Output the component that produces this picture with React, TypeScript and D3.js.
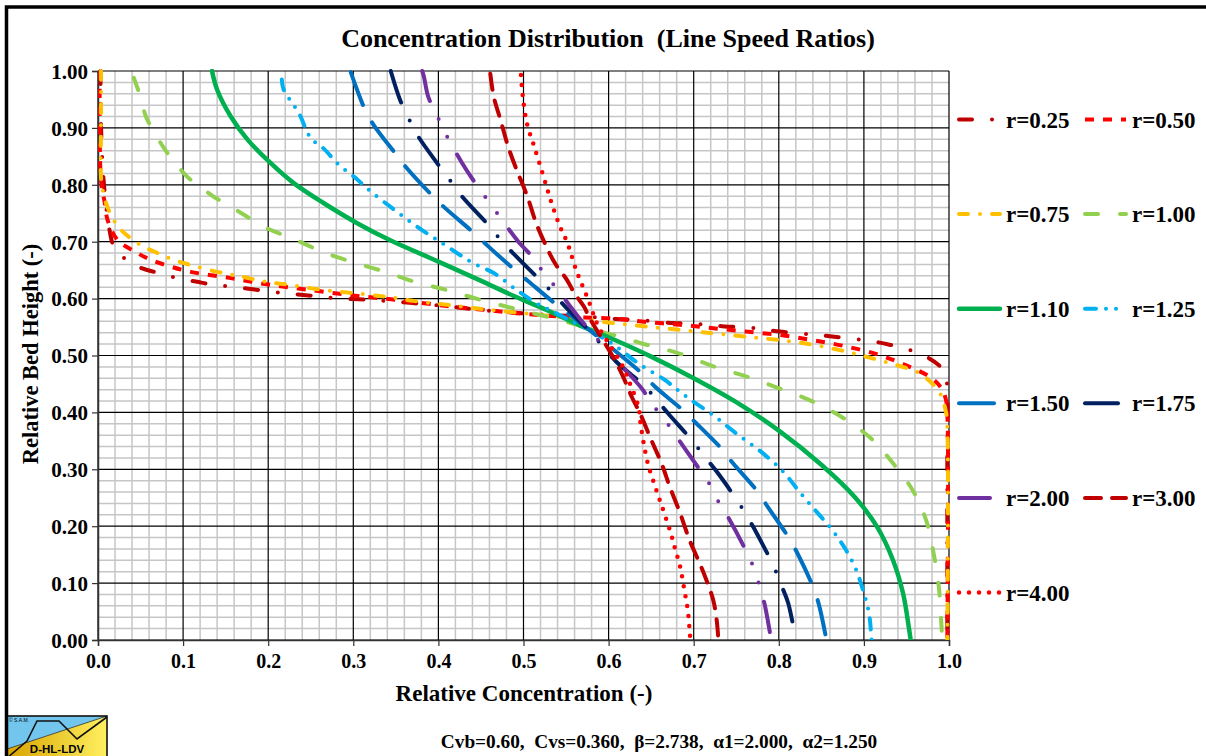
import { useEffect, useRef } from 'react'
import * as d3 from 'd3'

type Pt = [number, number]

// [relative concentration, relative bed height]
const r025: Pt[] = [
  [0.003, 1.0], [0.003, 0.95], [0.004, 0.88], [0.006, 0.82], [0.009, 0.77], [0.013, 0.725], [0.019, 0.69],
  [0.031, 0.671], [0.052, 0.653], [0.074, 0.644], [0.093, 0.636], [0.115, 0.63], [0.136, 0.624], [0.156, 0.621],
  [0.179, 0.617], [0.203, 0.612], [0.222, 0.609], [0.244, 0.606], [0.265, 0.603], [0.285, 0.6], [0.306, 0.599],
  [0.33, 0.597], [0.4, 0.588], [0.45, 0.58], [0.5, 0.574], [0.55, 0.57], [0.586, 0.567], [0.609, 0.564],
  [0.629, 0.563], [0.652, 0.56], [0.676, 0.557], [0.695, 0.556], [0.719, 0.554], [0.736, 0.551], [0.76, 0.55],
  [0.781, 0.546], [0.801, 0.542], [0.824, 0.539], [0.846, 0.536], [0.865, 0.533], [0.889, 0.529], [0.91, 0.525],
  [0.93, 0.519], [0.953, 0.51], [0.973, 0.498], [0.988, 0.483], [0.996, 0.465], [0.998, 0.44], [0.998, 0.3], [0.998, 0.0]
]
const r050: Pt[] = [
  [0.002, 1.0], [0.002, 0.9], [0.003, 0.82], [0.005, 0.79], [0.0074, 0.773], [0.0113, 0.738], [0.023, 0.703],
  [0.043, 0.683], [0.062, 0.668], [0.086, 0.656], [0.109, 0.647], [0.156, 0.636], [0.203, 0.624], [0.25, 0.615],
  [0.297, 0.606], [0.336, 0.6], [0.371, 0.594], [0.41, 0.587], [0.449, 0.581], [0.488, 0.575], [0.527, 0.57],
  [0.566, 0.567], [0.605, 0.565], [0.644, 0.559], [0.684, 0.554], [0.723, 0.548], [0.762, 0.542], [0.801, 0.536],
  [0.84, 0.527], [0.879, 0.516], [0.918, 0.501], [0.949, 0.483], [0.977, 0.463], [0.99, 0.445], [0.996, 0.425],
  [0.998, 0.4], [0.998, 0.0]
]
const r075: Pt[] = [
  [0.0035, 1.0], [0.0035, 0.9], [0.0035, 0.814], [0.0055, 0.791], [0.0094, 0.768], [0.0172, 0.741], [0.027, 0.721],
  [0.041, 0.703], [0.054, 0.691], [0.07, 0.68], [0.089, 0.668], [0.109, 0.659], [0.14, 0.647], [0.168, 0.639],
  [0.195, 0.63], [0.226, 0.624], [0.265, 0.615], [0.304, 0.609], [0.34, 0.603], [0.371, 0.596], [0.41, 0.589],
  [0.449, 0.582], [0.488, 0.576], [0.527, 0.57], [0.566, 0.564], [0.605, 0.557], [0.644, 0.551], [0.684, 0.545],
  [0.723, 0.539], [0.762, 0.533], [0.801, 0.527], [0.84, 0.519], [0.879, 0.507], [0.91, 0.495], [0.941, 0.482],
  [0.965, 0.469], [0.988, 0.437], [0.996, 0.404], [0.998, 0.375], [0.998, 0.0]
]
const r100: Pt[] = [
  [0.042, 0.988], [0.0445, 0.978], [0.0504, 0.952], [0.0563, 0.92], [0.066, 0.893], [0.0777, 0.864], [0.0894, 0.841],
  [0.105, 0.814], [0.117, 0.8], [0.136, 0.779], [0.152, 0.765], [0.172, 0.747], [0.187, 0.732], [0.207, 0.718],
  [0.226, 0.707], [0.246, 0.694], [0.265, 0.681], [0.285, 0.671], [0.304, 0.662], [0.324, 0.653], [0.342, 0.645],
  [0.371, 0.63], [0.41, 0.615], [0.449, 0.598], [0.488, 0.583], [0.517, 0.572], [0.539, 0.564], [0.598, 0.539],
  [0.617, 0.532], [0.637, 0.522], [0.656, 0.515], [0.684, 0.503], [0.723, 0.481], [0.762, 0.463], [0.801, 0.442],
  [0.84, 0.419], [0.879, 0.387], [0.91, 0.352], [0.934, 0.311], [0.957, 0.264], [0.973, 0.211], [0.982, 0.152],
  [0.988, 0.094], [0.991, 0.029], [0.992, 0.0]
]
const r110: Pt[] = [
  [0.134, 1.0], [0.14, 0.967], [0.156, 0.92], [0.176, 0.879], [0.203, 0.838], [0.23, 0.803], [0.265, 0.768],
  [0.304, 0.733], [0.344, 0.702], [0.4, 0.665], [0.449, 0.632], [0.488, 0.605], [0.527, 0.58], [0.566, 0.553],
  [0.6, 0.532], [0.65, 0.498], [0.7, 0.46], [0.75, 0.418], [0.8, 0.368], [0.85, 0.308], [0.89, 0.25],
  [0.915, 0.2], [0.934, 0.141], [0.946, 0.082], [0.953, 0.02], [0.955, 0.0]
]
const r125: Pt[] = [
  [0.216, 0.985], [0.218, 0.968], [0.236, 0.926], [0.25, 0.882], [0.265, 0.864], [0.283, 0.835], [0.301, 0.814],
  [0.316, 0.794], [0.336, 0.77], [0.359, 0.744], [0.383, 0.718], [0.402, 0.7], [0.422, 0.68], [0.441, 0.662],
  [0.465, 0.645], [0.492, 0.615], [0.515, 0.592], [0.535, 0.577], [0.603, 0.522], [0.635, 0.486], [0.666, 0.457],
  [0.691, 0.428], [0.723, 0.395], [0.75, 0.363], [0.779, 0.331], [0.805, 0.296], [0.824, 0.261], [0.844, 0.226],
  [0.863, 0.193], [0.879, 0.158], [0.891, 0.123], [0.9, 0.082], [0.906, 0.047], [0.909, 0.0]
]
const r150: Pt[] = [
  [0.297, 0.998], [0.314, 0.931], [0.324, 0.905], [0.351, 0.852], [0.363, 0.829], [0.394, 0.779], [0.408, 0.759],
  [0.442, 0.715], [0.457, 0.694], [0.49, 0.65], [0.506, 0.63], [0.539, 0.589], [0.573, 0.55], [0.611, 0.504],
  [0.641, 0.466], [0.654, 0.446], [0.687, 0.404], [0.703, 0.381], [0.734, 0.334], [0.746, 0.311], [0.775, 0.261],
  [0.787, 0.234], [0.812, 0.179], [0.822, 0.152], [0.84, 0.094], [0.847, 0.063], [0.856, 0.0]
]
const r175: Pt[] = [
  [0.344, 1.0], [0.355, 0.949], [0.365, 0.917], [0.375, 0.888], [0.4, 0.835], [0.414, 0.807], [0.428, 0.779],
  [0.457, 0.732], [0.471, 0.707], [0.487, 0.681], [0.517, 0.636], [0.533, 0.612], [0.549, 0.586], [0.578, 0.542],
  [0.609, 0.489], [0.641, 0.448], [0.656, 0.423], [0.67, 0.398], [0.699, 0.349], [0.713, 0.322], [0.727, 0.296],
  [0.752, 0.243], [0.764, 0.214], [0.775, 0.185], [0.795, 0.126], [0.803, 0.096], [0.811, 0.065], [0.82, 0.0]
]
const r200: Pt[] = [
  [0.381, 1.0], [0.383, 0.99], [0.388, 0.955], [0.398, 0.923], [0.408, 0.891], [0.428, 0.838], [0.441, 0.808],
  [0.455, 0.779], [0.469, 0.75], [0.494, 0.7], [0.51, 0.674], [0.523, 0.647], [0.539, 0.618], [0.566, 0.565],
  [0.609, 0.492], [0.639, 0.442], [0.652, 0.413], [0.666, 0.387], [0.68, 0.357], [0.703, 0.308], [0.717, 0.278],
  [0.728, 0.246], [0.74, 0.217], [0.76, 0.161], [0.77, 0.129], [0.777, 0.097], [0.783, 0.065], [0.787, 0.035], [0.791, 0.0]
]
const r300: Pt[] = [
  [0.461, 0.995], [0.465, 0.955], [0.473, 0.914], [0.482, 0.867], [0.492, 0.826], [0.5, 0.797], [0.506, 0.773],
  [0.515, 0.732], [0.527, 0.691], [0.537, 0.662], [0.551, 0.633], [0.56, 0.609], [0.571, 0.586], [0.578, 0.565],
  [0.605, 0.498], [0.617, 0.463], [0.627, 0.428], [0.637, 0.398], [0.65, 0.352], [0.662, 0.311], [0.672, 0.269],
  [0.684, 0.223], [0.695, 0.176], [0.707, 0.135], [0.715, 0.105], [0.723, 0.07], [0.727, 0.035], [0.729, 0.0]
]
const r400: Pt[] = [
  [0.497, 0.993], [0.499, 0.958], [0.504, 0.908], [0.512, 0.87], [0.523, 0.817], [0.533, 0.768], [0.543, 0.726],
  [0.551, 0.7], [0.562, 0.65], [0.576, 0.598], [0.588, 0.551], [0.605, 0.51], [0.617, 0.48], [0.625, 0.451],
  [0.635, 0.41], [0.638, 0.375], [0.646, 0.311], [0.656, 0.264], [0.664, 0.229], [0.672, 0.193], [0.678, 0.161],
  [0.684, 0.129], [0.689, 0.088], [0.693, 0.053], [0.695, 0.021], [0.696, 0.0]
]

const seriesNames = ["r=0.25", "r=0.50", "r=0.75", "r=1.00", "r=1.10", "r=1.25", "r=1.50", "r=1.75", "r=2.00", "r=3.00", "r=4.00"]
const seriesPoints = [r025, r050, r075, r100, r110, r125, r150, r175, r200, r300, r400]

const xTickLabels = ["0.0", "0.1", "0.2", "0.3", "0.4", "0.5", "0.6", "0.7", "0.8", "0.9", "1.0"]
const yTickLabels = ["0.00", "0.10", "0.20", "0.30", "0.40", "0.50", "0.60", "0.70", "0.80", "0.90", "1.00"]

const titleText = "Concentration Distribution  (Line Speed Ratios)"
const xTitle = "Relative Concentration (-)"
const yTitle = "Relative Bed Height (-)"
const footerText = "Cvb=0.60,  Cvs=0.360,  β=2.738,  α1=2.000,  α2=1.250"

// line look per series (Excel-like dash types)
const lineStyles = [
  { color: "#C00000", dash: "13,20,0,20", cap: "round", w: 4 },
  { color: "#FF0000", dash: "9,9", cap: "butt", w: 4 },
  { color: "#FFC000", dash: "9,12,0,12", cap: "round", w: 4 },
  { color: "#92D050", dash: "13,22", cap: "round", w: 4 },
  { color: "#00B050", dash: null, cap: "round", w: 4.5 },
  { color: "#00B0F0", dash: "11,10,0,10,0,10", cap: "round", w: 4 },
  { color: "#0070C0", dash: "35,20", cap: "round", w: 4 },
  { color: "#002060", dash: "33,20,0,20", cap: "round", w: 4 },
  { color: "#7030A0", dash: "31,20,0,20,0,20", cap: "round", w: 4 },
  { color: "#C00000", dash: "16,11", cap: "round", w: 4 },
  { color: "#FF0000", dash: "0,10", cap: "round", w: 4.5 },
]

const FONT = "'Liberation Serif', 'Times New Roman', serif"

export default function App() {
  const svgRef = useRef<SVGSVGElement>(null)

  useEffect(() => {
    if (!svgRef.current) return
    const root = d3.select(svgRef.current)
    root.selectAll("*").remove()

    const W = 1206, H = 756
    const plot = { left: 98, right: 949, top: 71, bottom: 640 }

    root.attr("width", W).attr("height", H)
    root.append("rect").attr("width", W).attr("height", H).attr("fill", "#fff")

    const x = d3.scaleLinear().domain([0, 1]).range([plot.left, plot.right])
    const y = d3.scaleLinear().domain([0, 1]).range([plot.bottom, plot.top])

    // minor grid
    const minor = d3.range(0, 1.0001, 0.02).filter(v => Math.abs(v * 10 - Math.round(v * 10)) > 1e-6)
    const grid = root.append("g")
    grid.selectAll("line.mx").data(minor).join("line")
      .attr("x1", d => x(d)).attr("x2", d => x(d)).attr("y1", plot.top).attr("y2", plot.bottom)
      .attr("stroke", "#c6c6c6").attr("stroke-width", 1.5)
    grid.selectAll("line.my").data(minor).join("line")
      .attr("y1", d => y(d)).attr("y2", d => y(d)).attr("x1", plot.left).attr("x2", plot.right)
      .attr("stroke", "#c6c6c6").attr("stroke-width", 1.5)

    // major grid
    const major = d3.range(0, 11).map(i => i / 10)
    grid.selectAll("line.Mx").data(major).join("line")
      .attr("x1", d => x(d)).attr("x2", d => x(d)).attr("y1", plot.top).attr("y2", plot.bottom)
      .attr("stroke", "#000").attr("stroke-width", 1.2)
    grid.selectAll("line.My").data(major).join("line")
      .attr("y1", d => y(d)).attr("y2", d => y(d)).attr("x1", plot.left).attr("x2", plot.right)
      .attr("stroke", "#000").attr("stroke-width", 1.2)

    // axes
    const xAxis = root.append("g")
      .attr("transform", `translate(0,${plot.bottom})`)
      .call(d3.axisBottom(x).tickValues(major).tickSize(6).tickPadding(8).tickFormat((_, i) => xTickLabels[i]))
    const yAxis = root.append("g")
      .attr("transform", `translate(${plot.left},0)`)
      .call(d3.axisLeft(y).tickValues(major).tickSize(6).tickPadding(4).tickFormat((_, i) => yTickLabels[i]))
    for (const ax of [xAxis, yAxis]) {
      ax.select(".domain").attr("stroke", "#333").attr("stroke-width", 1.5)
      ax.selectAll(".tick line").attr("stroke", "#333").attr("stroke-width", 1.2)
      ax.selectAll("text").attr("fill", "#000").style("font-family", FONT).style("font-weight", "bold")
    }
    xAxis.selectAll("text").style("font-size", "20px")
    yAxis.selectAll("text").style("font-size", "21px").attr("dy", "0.35em")

    // series
    root.append("defs").append("clipPath").attr("id", "plot-clip")
      .append("rect")
      .attr("x", plot.left).attr("y", plot.top - 2)
      .attr("width", plot.right - plot.left + 1).attr("height", plot.bottom - plot.top + 2)

    const line = d3.line<Pt>()
      .x(d => x(d[0]))
      .y(d => y(d[1]))
      .curve(d3.curveCatmullRom.alpha(0.5))

    const lines = root.append("g").attr("clip-path", "url(#plot-clip)")
    seriesPoints.forEach((pts, i) => {
      const s = lineStyles[i]
      lines.append("path")
        .datum(pts)
        .attr("fill", "none")
        .attr("stroke", s.color)
        .attr("stroke-width", s.w)
        .attr("stroke-linecap", s.cap)
        .attr("stroke-linejoin", "round")
        .attr("stroke-dasharray", s.dash)
        .attr("d", line)
    })

    // legend, two columns
    const legend = root.append("g")
    seriesNames.forEach((name, i) => {
      const s = lineStyles[i]
      const col = i % 2
      const row = Math.floor(i / 2)
      const lx = col === 0 ? 957 : 1083
      const ly = 119.5 + row * 94.6
      legend.append("line")
        .attr("x1", lx + 2).attr("x2", lx + 43).attr("y1", ly).attr("y2", ly)
        .attr("stroke", s.color).attr("stroke-width", s.w)
        .attr("stroke-linecap", s.cap)
        .attr("stroke-dasharray", s.dash)
      legend.append("text")
        .attr("x", lx + 49).attr("y", ly + 8)
        .style("font-family", FONT).style("font-weight", "bold").style("font-size", "23px")
        .text(name)
    })

    // titles
    root.append("text")
      .attr("x", 608).attr("y", 47)
      .attr("text-anchor", "middle")
      .style("font-family", FONT).style("font-weight", "bold").style("font-size", "26px")
      .style("white-space", "pre")
      .text(titleText)

    root.append("text")
      .attr("x", 524).attr("y", 701)
      .attr("text-anchor", "middle")
      .style("font-family", FONT).style("font-weight", "bold").style("font-size", "23px")
      .text(xTitle)

    root.append("text")
      .attr("transform", `translate(38,354) rotate(-90)`)
      .attr("text-anchor", "middle")
      .style("font-family", FONT).style("font-weight", "bold").style("font-size", "22.5px")
      .text(yTitle)

    root.append("text")
      .attr("x", 659).attr("y", 748)
      .attr("text-anchor", "middle")
      .style("font-family", FONT).style("font-weight", "bold").style("font-size", "19.3px")
      .style("white-space", "pre")
      .text(footerText)

    // logo
    const logo = root.append("g").attr("transform", "translate(7,716)")
    const grad = root.select("defs").append("linearGradient").attr("id", "logo-grad")
    grad.append("stop").attr("offset", "0%").attr("stop-color", "#D8A400")
    grad.append("stop").attr("offset", "100%").attr("stop-color", "#FFF060")
    logo.append("rect").attr("width", 100).attr("height", 42).attr("fill", "url(#logo-grad)")
    logo.append("path").attr("d", "M0,0 L100,0 L0,33 Z").attr("fill", "#72C6EE")
    logo.append("path").attr("d", "M0,33 L100,0").attr("stroke", "#333").attr("stroke-width", 0.8)
    logo.append("path").attr("d", "M0,42 L20,25 L30,5 L52,5 L70,23 L100,1")
      .attr("fill", "none").attr("stroke", "#111").attr("stroke-width", 1.6)
    logo.append("rect").attr("width", 100).attr("height", 42)
      .attr("fill", "none").attr("stroke", "#111").attr("stroke-width", 1.6)
    logo.append("text").attr("x", 50).attr("y", 37).attr("text-anchor", "middle")
      .style("font-family", "'Liberation Sans', Arial, sans-serif").style("font-weight", "bold").style("font-size", "11.5px")
      .text("D-HL-LDV")
    logo.append("text").attr("x", 2).attr("y", 6)
      .style("font-family", "'Liberation Sans', Arial, sans-serif").style("font-size", "5px")
      .text("© S.A.M.")

    // outer frame
    root.append("rect")
      .attr("x", 6.5).attr("y", 7).attr("width", 1300).attr("height", 900)
      .attr("fill", "none").attr("stroke", "#000").attr("stroke-width", 3.5)
  }, [])

  return (
    <svg ref={svgRef} style={{ position: "absolute", left: 0, top: 0, display: "block" }} />
  )
}
